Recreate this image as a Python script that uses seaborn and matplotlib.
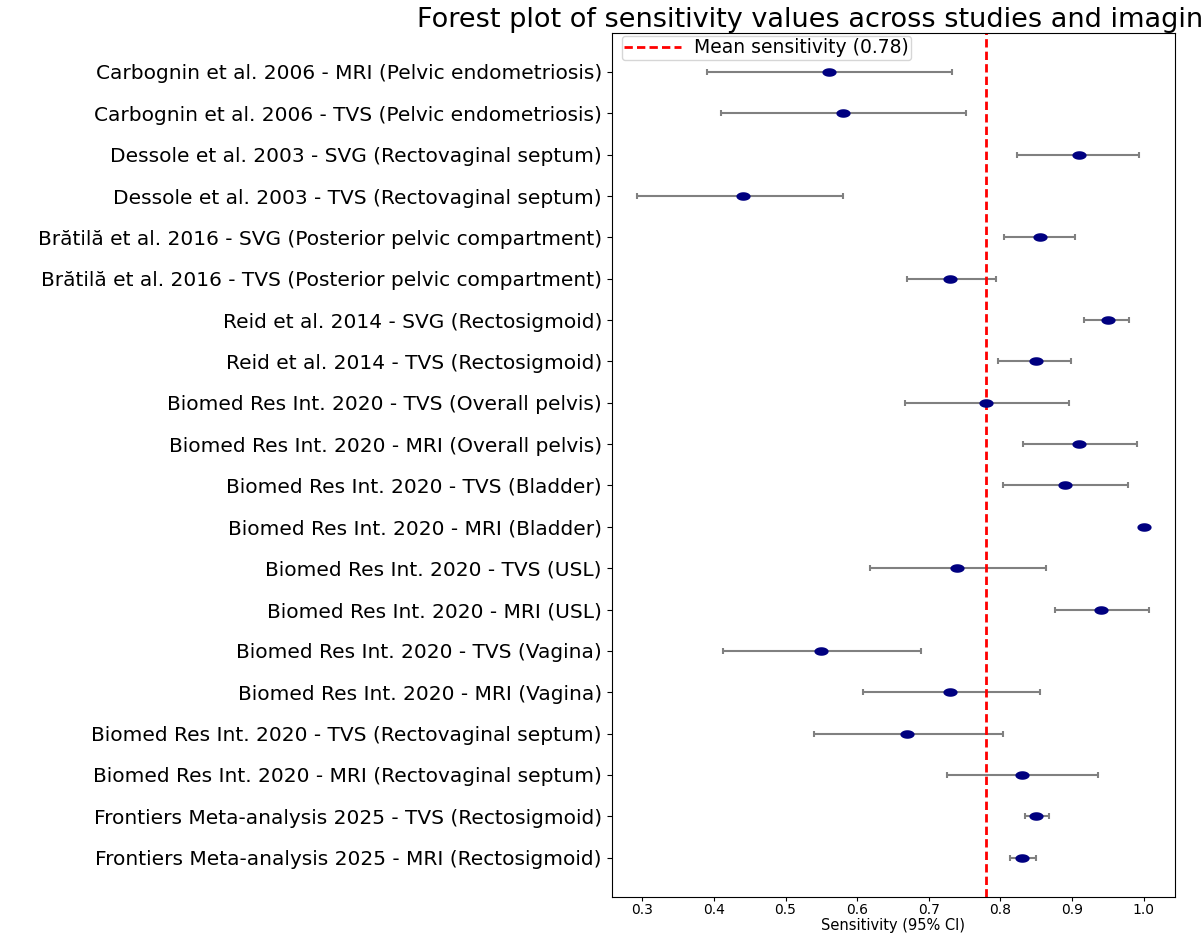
import numpy as np
import pandas as pd
import matplotlib
matplotlib.use("Agg")
import matplotlib.pyplot as plt
import seaborn as sns

studies = [
    "Carbognin et al. 2006 - MRI (Pelvic endometriosis)",
    "Carbognin et al. 2006 - TVS (Pelvic endometriosis)",
    "Dessole et al. 2003 - SVG (Rectovaginal septum)",
    "Dessole et al. 2003 - TVS (Rectovaginal septum)",
    "Brătilă et al. 2016 - SVG (Posterior pelvic compartment)",
    "Brătilă et al. 2016 - TVS (Posterior pelvic compartment)",
    "Reid et al. 2014 - SVG (Rectosigmoid)",
    "Reid et al. 2014 - TVS (Rectosigmoid)",
    "Biomed Res Int. 2020 - TVS (Overall pelvis)",
    "Biomed Res Int. 2020 - MRI (Overall pelvis)",
    "Biomed Res Int. 2020 - TVS (Bladder)",
    "Biomed Res Int. 2020 - MRI (Bladder)",
    "Biomed Res Int. 2020 - TVS (USL)",
    "Biomed Res Int. 2020 - MRI (USL)",
    "Biomed Res Int. 2020 - TVS (Vagina)",
    "Biomed Res Int. 2020 - MRI (Vagina)",
    "Biomed Res Int. 2020 - TVS (Rectovaginal septum)",
    "Biomed Res Int. 2020 - MRI (Rectovaginal septum)",
    "Frontiers Meta-analysis 2025 - TVS (Rectosigmoid)",
    "Frontiers Meta-analysis 2025 - MRI (Rectosigmoid)",
]
sensitivity = [0.56, 0.58, 0.91, 0.44, 0.855, 0.73, 0.95, 0.85, 0.78, 0.91,
               0.89, 1.00, 0.74, 0.94, 0.55, 0.73, 0.67, 0.83, 0.85, 0.83]
ci_low = [0.39, 0.41, 0.823, 0.293, 0.805, 0.669, 0.917, 0.796, 0.667, 0.832,
          0.804, 1.00, 0.618, 0.876, 0.413, 0.608, 0.54, 0.726, 0.834, 0.813]
ci_high = [0.733, 0.752, 0.993, 0.58, 0.904, 0.794, 0.979, 0.899, 0.896, 0.991,
           0.978, 1.00, 0.864, 1.008, 0.689, 0.855, 0.803, 0.936, 0.868, 0.849]

df = pd.DataFrame({"study": studies, "sens": sensitivity,
                   "lo": ci_low, "hi": ci_high})
df["pos"] = np.arange(len(df))
mean_sens = df["sens"].mean()

fig = plt.figure(figsize=(12.04, 9.33), dpi=100)
ax = fig.add_axes([0.508, 0.0386, 0.468, 0.9264])

ax.errorbar(df["sens"], df["pos"],
            xerr=[df["sens"] - df["lo"], df["hi"] - df["sens"]],
            fmt="none", ecolor="gray", elinewidth=1.5, capsize=2.5, capthick=1.5,
            zorder=2)

# slightly wide ellipse marker, the reference looks stretched sideways
t = np.linspace(0, 2 * np.pi, 60)
ell = np.column_stack([np.cos(t), 0.6 * np.sin(t)])
sns.scatterplot(data=df, x="sens", y="pos", ax=ax, color="navy",
                marker=ell, s=105, linewidth=0, zorder=3)

ax.axvline(mean_sens, color="red", linestyle=(0, (3, 1.5)), linewidth=2,
           label=f"Mean sensitivity ({mean_sens:.2f})")

ax.set_yticks(df["pos"])
ax.set_yticklabels(df["study"], fontsize=14.5)
ax.invert_yaxis()
ax.tick_params(axis="x", labelsize=10, pad=1.5, length=3)
ax.set_ylabel("")
ax.set_xlabel("Sensitivity (95% CI)", fontsize=10.5)
ax.xaxis.label.set_va("baseline")
ax.xaxis.set_label_coords(0.5, -33 / 864)
ax.set_title("Forest plot of sensitivity values across studies and imaging modalities",
             fontsize=19.5, pad=3.5)
ax.legend(loc="upper left", bbox_to_anchor=(0.0178, 0.9965), borderaxespad=0,
          fontsize=13.5, borderpad=0.15, handlelength=3.0, handletextpad=0.7)

fig.savefig("out.png", dpi=100)
